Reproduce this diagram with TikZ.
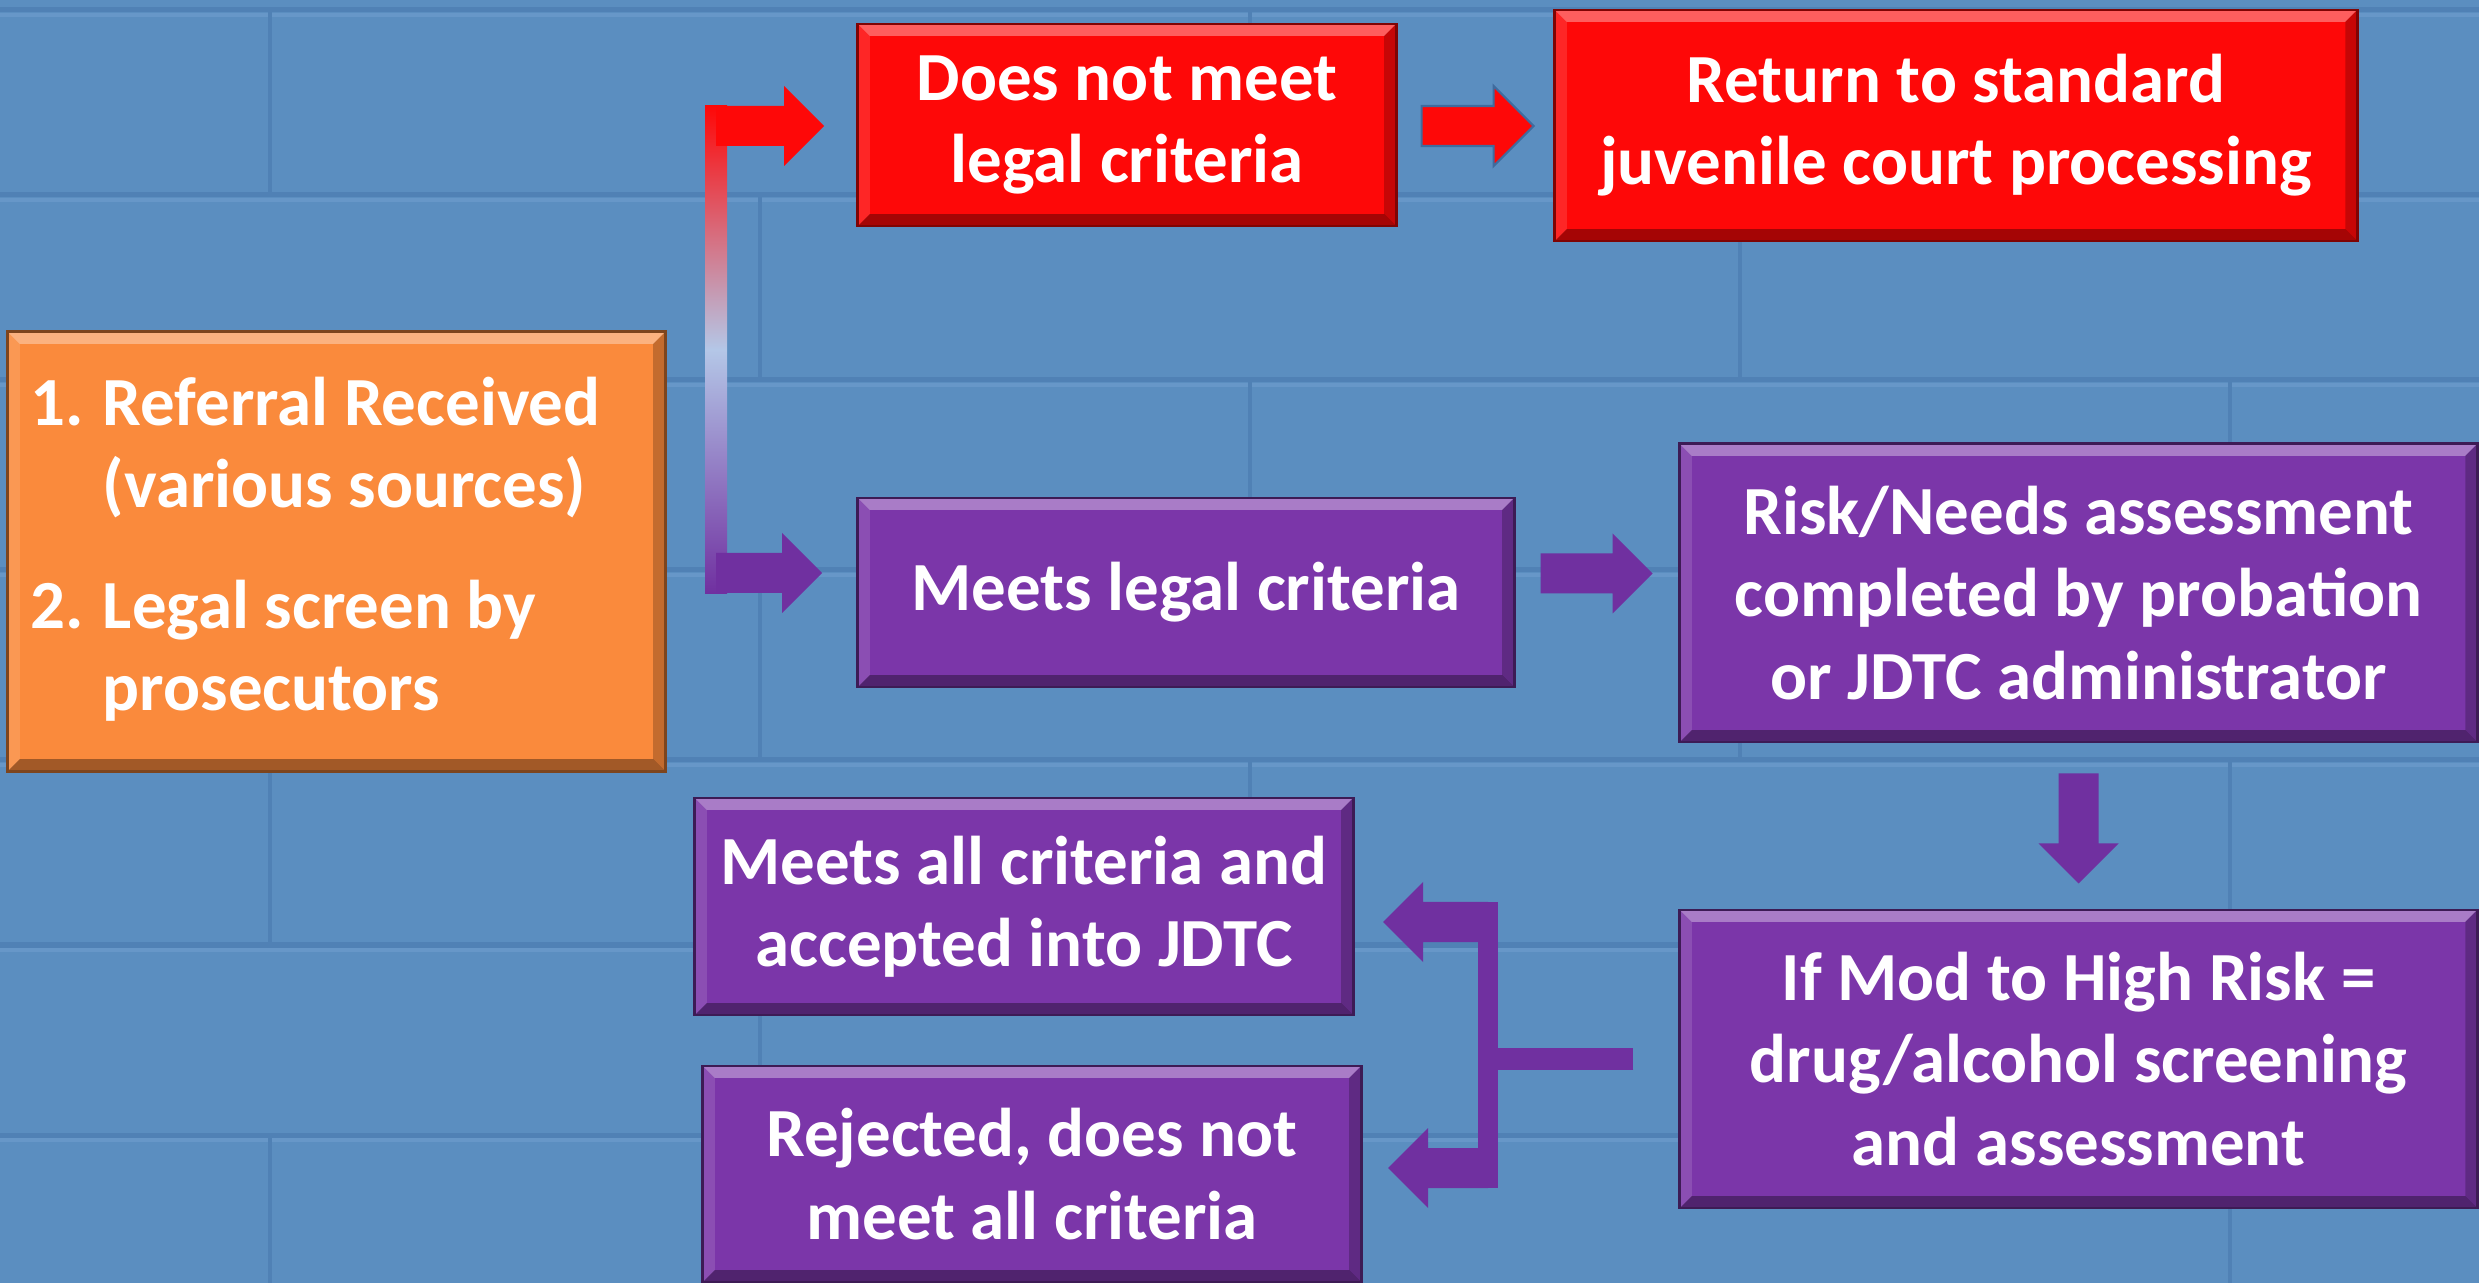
\documentclass[tikz,border=0pt]{standalone}
\usepackage{fontspec}
\setmainfont{Carlito}
\usetikzlibrary{calc}

\definecolor{wallblue}{HTML}{5B8EC0}
\definecolor{mortar}{HTML}{5081B5}
\definecolor{mortarhi}{HTML}{6797C8}
\definecolor{boxorange}{HTML}{FA8A3C}
\definecolor{boxred}{HTML}{FE0808}
\definecolor{boxpurple}{HTML}{7B36A9}
\definecolor{arrpurple}{HTML}{7030A0}
\definecolor{paleblue}{HTML}{B4C7E7}
\definecolor{rimblue}{HTML}{3F6B9E}

% fat block arrow: [style]{start}{angle}{length in px}
\newcommand{\blockarrow}[4][fill=arrpurple]{%
  \begin{scope}[shift={(#2)},rotate=#3]
    \path[#1] (0,-20) -- (#4-40,-20) -- (#4-40,-40) -- (#4,0) -- (#4-40,40) -- (#4-40,20) -- (0,20) -- cycle;
  \end{scope}}

\tikzset{
  bevel/.style={path picture={
    \path (path picture bounding box.north west) coordinate (bnw)
          (path picture bounding box.north east) coordinate (bne)
          (path picture bounding box.south east) coordinate (bse)
          (path picture bounding box.south west) coordinate (bsw);
    \fill[white,opacity=.35] (bnw) -- (bne) -- ([xshift=-1.2mm,yshift=-1.2mm]bne) -- ([xshift=1.2mm,yshift=-1.2mm]bnw) -- cycle;
    \fill[black,opacity=.35] (bse) -- (bsw) -- ([xshift=1.2mm,yshift=1.2mm]bsw) -- ([xshift=-1.2mm,yshift=1.2mm]bse) -- cycle;
    \fill[black,opacity=.22] (bse) -- (bne) -- ([xshift=-1.2mm,yshift=-1.2mm]bne) -- ([xshift=-1.2mm,yshift=1.2mm]bse) -- cycle;
    \fill[white,opacity=.12] (bnw) -- (bsw) -- ([xshift=1.2mm,yshift=1.2mm]bsw) -- ([xshift=1.2mm,yshift=-1.2mm]bnw) -- cycle;
  }},
  panel/.style={draw=#1!50!black,line width=.8pt,fill=#1,bevel,text=white,
    font=\fontsize{19.6}{23.4}\selectfont\bfseries,align=center,inner sep=0pt}
}

\begin{document}
\begin{tikzpicture}[x=0.01cm,y=-0.01cm]
\useasboundingbox (0,0) rectangle (2479,1283);
% brick wall
\fill[wallblue] (0,0) rectangle (2479,1283);
\foreach \y in {10,195,380,570,760,945,1135}{
  \draw[mortarhi,line width=.04cm] (0,\y+5) -- (2479,\y+5);
  \draw[mortar,line width=.05cm] (0,\y) -- (2479,\y);
}
\foreach \ya/\yb/\xo in {10/195/270,195/380/760,380/570/270,570/760/760,760/945/270,945/1135/760,1135/1283/270}
  \foreach \x in {0,980,1960}
    \draw[mortar,line width=.04cm] (\xo+\x,\ya) -- (\xo+\x,\yb);

% boxes
\node[panel=boxorange,minimum width=6.57cm,minimum height=4.39cm,text width=6.11cm,align=left] (ref) at (336.5,551.5)
  {\noindent\spaceskip=0pt\xspaceskip=0pt
   \begin{tabular}{@{}p{.72cm}@{}l@{}}
   1. & Referral Received\\
      & (various sources)\\[.38cm]
   2. & Legal screen by\\
      & prosecutors
   \end{tabular}};
\node[panel=boxred,minimum width=5.38cm,minimum height=2.02cm] (nomeet) at (1127,125) {Does not meet\\legal criteria};
\node[panel=boxred,minimum width=8.02cm,minimum height=2.31cm] (standard) at (1956,125.5) {Return to standard\\juvenile court processing};
\node[panel=boxpurple,minimum width=6.56cm,minimum height=1.89cm] (meets) at (1186,592.5) {Meets legal criteria};
\node[panel=boxpurple,minimum width=7.97cm,minimum height=2.98cm] (risk) at (2078.5,593) {Risk/Needs assessment\\completed by probation\\or JDTC administrator};
\node[panel=boxpurple,minimum width=7.97cm,minimum height=2.98cm] (ifmod) at (2078.5,1059) {If Mod to High Risk =\\drug/alcohol screening\\and assessment};
\node[panel=boxpurple,minimum width=6.58cm,minimum height=2.17cm] (meetsall) at (1024,906.5) {Meets all criteria and\\accepted into JDTC};
\node[panel=boxpurple,minimum width=6.58cm,minimum height=2.16cm] (rejected) at (1032,1174) {Rejected, does not\\meet all criteria};

% legal screen splits in two
\coordinate (splitT) at (716,126);
\coordinate (splitB) at (716,573);
\shade[top color=boxred,bottom color=arrpurple,middle color=paleblue]
  ([xshift=-.11cm,yshift=.2cm]splitT) rectangle ([xshift=.11cm,yshift=-.2cm]splitB);
\blockarrow[fill=boxred]{splitT}{0}{108}
\blockarrow{splitB}{0}{106}

\blockarrow[fill=boxred,draw=rimblue,line width=.6pt]{$(nomeet.east)+(24,1)$}{0}{112}
\blockarrow{$(meets.east)+(25,-19)$}{0}{112}
\blockarrow{$(risk.south)+(0,30)$}{-90}{110}

% screening result goes one of two ways
\coordinate (forkT) at (1488,922);
\coordinate (forkB) at (1488,1168);
\draw[arrpurple,line width=.21cm] ([xshift=-.45cm]ifmod.west) -- (ifmod.west -| forkT);
\fill[arrpurple] ([xshift=-.1cm,yshift=.2cm]forkT) rectangle ([xshift=.1cm,yshift=-.2cm]forkB);
\blockarrow{forkT}{180}{105}
\blockarrow{forkB}{180}{100}
\end{tikzpicture}
\end{document}
